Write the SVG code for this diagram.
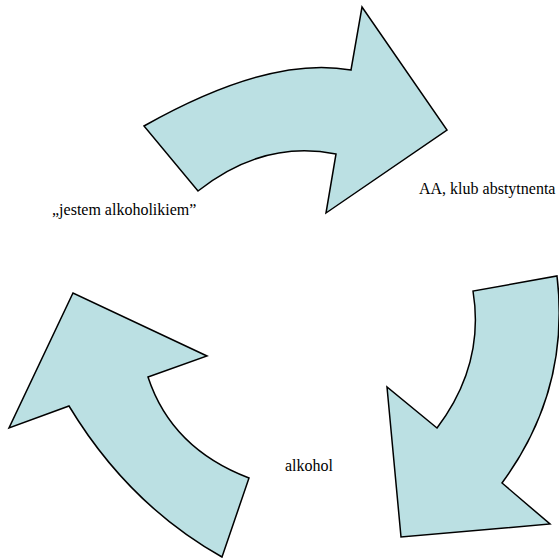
<svg xmlns="http://www.w3.org/2000/svg" width="559" height="558" viewBox="0 0 559 558">
<style>
.arrow{fill:#BBE0E3;stroke:#000;stroke-width:1.5;stroke-linejoin:miter}
.lbl{font-family:'Liberation Serif',serif;font-size:16px;fill:#000}
</style>
<rect width="559" height="558" fill="#fff"/>
<g id="connectors">
<g id="arrow-top"><path class="arrow" d="M144,126 Q270,55 351,70 L362,7 L447,130 L326,213 L336,154 Q263,139.5 198,191 Z"/></g>
<g id="arrow-right"><path class="arrow" d="M557,276 Q570.5,390.5 502,483 L550,524 L401,537 L387,387 L437,428 Q485,364.5 473,291 Z"/></g>
<g id="arrow-left"><path class="arrow" d="M222,557 Q128.5,504.5 69,406 L9,428 L73,293 L207,356 L148,377 Q171.5,448.5 249,478 Z"/></g>
</g>
<g id="node-jestem"><text class="lbl" x="52" y="215">„jestem alkoholikiem”</text></g>
<g id="node-aa"><text class="lbl" x="419" y="194">AA, klub abstytnenta</text></g>
<g id="node-alkohol"><text class="lbl" x="285" y="471">alkohol</text></g>
</svg>
